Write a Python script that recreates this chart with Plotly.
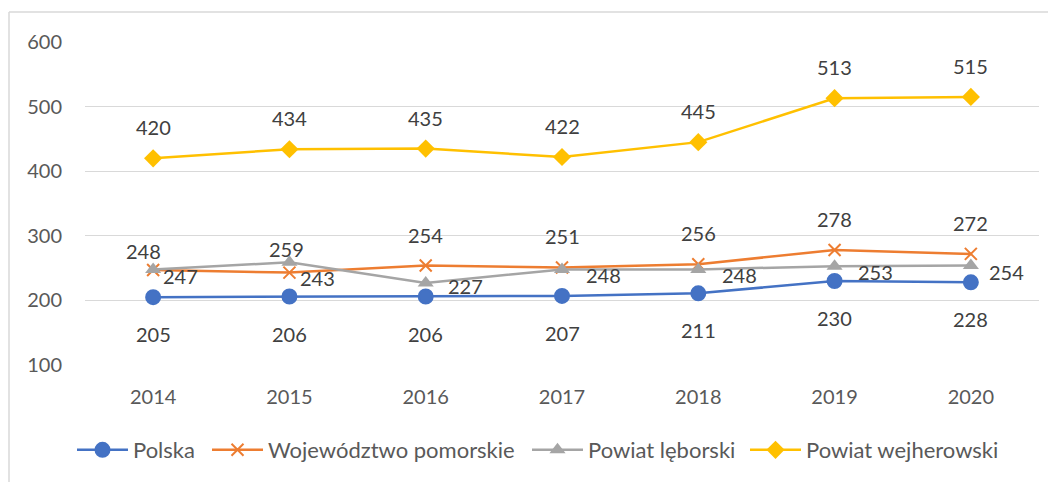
import plotly.graph_objects as go

years = ["2014", "2015", "2016", "2017", "2018", "2019", "2020"]
polska = [205, 206, 206, 207, 211, 230, 228]
pomorskie = [247, 243, 254, 251, 256, 278, 272]
leborski = [248, 259, 227, 248, 248, 253, 254]
wejherowski = [420, 434, 435, 422, 445, 513, 515]
y_ticks = [100, 200, 300, 400, 500, 600]

FONT = "Lato"
OFF = 8  # page body margin
W, H = 1056 - OFF, 482 - OFF
L, R, T, B = 85 - OFF, 17, 42 - OFF, 116

pw = W - L - R
ph = H - T - B
def px(x):
    return (x - OFF - L) / pw
def py(y):
    return (H - B - (y - OFF)) / ph

series = [
    ("Polska", polska, "#4472C4", "circle", 14, 2, "legend", 77),
    ("Województwo pomorskie", pomorskie, "#ED7D31", "x-thin-open", 12, 2, "legend2", 212),
    ("Powiat lęborski", leborski, "#A5A5A5", "triangle-up", 14, 0, "legend3", 532),
    ("Powiat wejherowski", wejherowski, "#FFC000", "diamond", 14, 0, "legend4", 750),
]

fig = go.Figure()
legends = {}
for name, vals, col, sym, size, mlw, leg, lx in series:
    fig.add_trace(go.Scatter(
        x=years, y=vals, name=name, mode="lines+markers", legend=leg,
        line=dict(color=col, width=2.5),
        marker=dict(symbol=sym, size=size, color=col,
                    line=dict(color=col, width=mlw)),
    ))
    legends[leg] = dict(orientation="h", x=px(lx - 5), xanchor="left",
                        y=py(450), yanchor="middle", bgcolor="rgba(0,0,0,0)",
                        font=dict(family=FONT, size=22, color="#595959"),
                        itemwidth=51)

# label offsets (pixels) per series / point
below = (0, -37)
above = (0, 31)
offsets = {
    "Polska": [below] * 7,
    "Województwo pomorskie": [(27, -6), (28, -5)] + [above] * 5,
    "Powiat lęborski": [(-10, 18), (-3, 13)] + [(40, -3), (41, -6), (41, -6), (41, -6), (36, -6)],
    "Powiat wejherowski": [above] * 7,
}

annotations = []
for name, vals, *_ in series:
    for i, yv in enumerate(vals):
        dx, dy = offsets[name][i]
        annotations.append(dict(
            x=i, y=yv, xref="x", yref="y", text=str(yv), showarrow=False,
            xshift=dx, yshift=dy,
            font=dict(family=FONT, size=20, color="#404040"),
        ))

shapes = [
    dict(type="line", xref="paper", yref="paper",
         x0=px(9), x1=px(1060), y0=py(12), y1=py(12),
         line=dict(color="#D9D9D9", width=1.5)),
    dict(type="line", xref="paper", yref="paper",
         x0=px(9), x1=px(9), y0=py(12), y1=py(490),
         line=dict(color="#D9D9D9", width=1.5)),
]

fig.update_layout(
    width=W, height=H,
    margin=dict(l=L, r=R, t=T, b=B),
    paper_bgcolor="white", plot_bgcolor="white",
    showlegend=True,
    xaxis=dict(type="category", range=[-0.5, 6.5], showgrid=False, zeroline=False,
               showline=False, ticks="", ticklabelstandoff=18,
               tickfont=dict(family=FONT, size=20, color="#595959")),
    yaxis=dict(range=[100, 600], tickvals=y_ticks, showgrid=True, gridcolor="#D9D9D9",
               gridwidth=1.2, zeroline=False, showline=False, ticks="",
               ticklabelstandoff=22,
               tickfont=dict(family=FONT, size=20, color="#595959")),
    annotations=annotations,
    shapes=shapes,
    **legends,
)

fig.write_html("out.html")
